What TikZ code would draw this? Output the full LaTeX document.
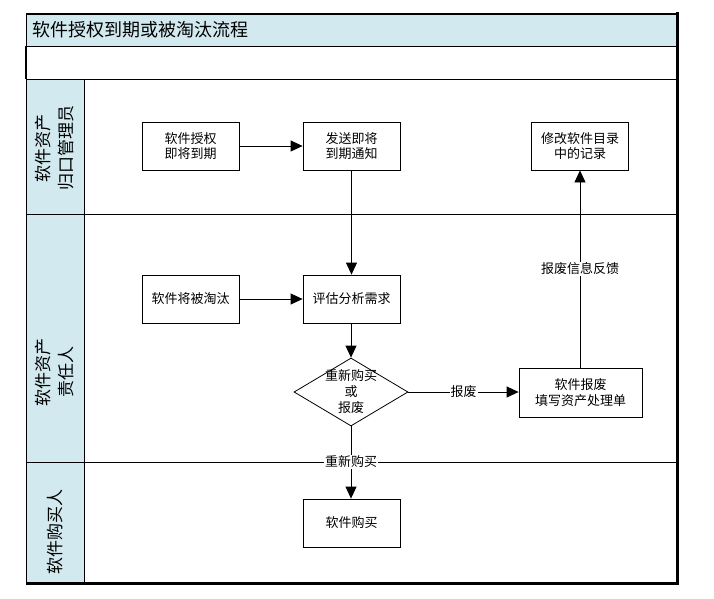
\documentclass[tikz,border=0pt]{standalone}
\usepackage{fontspec}
\setmainfont{Noto Sans CJK SC}
\usetikzlibrary{shapes.geometric,arrows.meta}
\definecolor{lanebg}{HTML}{D2E9EF}
\begin{document}
\begin{tikzpicture}[x=1pt,y=-1pt,
  box/.style={draw,line width=0.8pt,minimum width=97pt,minimum height=48pt,inner sep=0pt,align=center,font=\fontsize{13}{15.5}\selectfont},
  arr/.style={-{Triangle[length=12pt,width=11pt]},line width=0.8pt},
  lbl/.style={fill=white,inner sep=1pt,font=\fontsize{13}{15}\selectfont},
  lanetxt/.style={rotate=90,align=center,font=\fontsize{17}{23}\selectfont},
  frame/.style={line width=0.8pt}]
\useasboundingbox (0,0) rectangle (714,599);
% backgrounds
\fill[lanebg] (26,14) rectangle (677,46);
\fill[lanebg] (26,79) rectangle (84,583);
% frame and lanes
\draw[line width=1.2pt] (26,14) -- (677,14);
\draw[frame] (26,14) -- (26,583);
\draw[line width=2pt] (26,46) -- (26,79);
\draw[frame] (26,46) -- (677,46);
\draw[frame] (26,79) -- (677,79);
\draw[frame] (26,214) -- (677,214);
\draw[frame] (26,462) -- (677,462);
\draw[frame] (84,79) -- (84,583);
\draw[line width=3pt] (677,12.5) -- (677,583) -- (26,583);
% title and lane labels
\node[anchor=west,font=\fontsize{18}{20}\selectfont] (title) at (29,30) {软件授权到期或被淘汰流程};
\node[lanetxt] (l1) at (55,148) {软件资产\\归口管理员};
\node[lanetxt] (l2) at (55,372) {软件资产\\责任人};
\node[lanetxt] (l3) at (55,532) {软件购买人};
% nodes
\node[box] (a) at (190.5,146) {软件授权\\即将到期};
\node[box] (b) at (351.5,146) {发送即将\\到期通知};
\node[box] (c) at (580,146) {修改软件目录\\中的记录};
\node[box] (d) at (190.5,299) {软件将被淘汰};
\node[box] (e) at (351.5,299) {评估分析需求};
\node[draw,diamond,line width=0.8pt,minimum width=114pt,minimum height=68pt,inner sep=0pt,
  label={[align=center,font=\fontsize{13}{16}\selectfont]center:重新购买\\或\\报废}] (dec) at (351,392) {};
\node[box,minimum width=123pt,minimum height=49pt] (f) at (580.5,392.5) {软件报废\\填写资产处理单};
\node[box] (g) at (351.5,523) {软件购买};
% connectors
\draw[arr] (a) -- (b);
\draw[arr] (b) -- (e);
\draw[arr] (d) -- (e);
\draw[arr] (e.south -| dec.north) -- (dec.north);
\draw[arr] (dec.east) -- node[lbl] {报废} (f.west |- dec.east);
\draw[arr] (dec.south) -- node[lbl,pos=0.49] {重新购买} (g.north -| dec.south);
\draw[arr] (f.north -| c.south) -- node[lbl,pos=0.5] {报废信息反馈} (c.south);
\end{tikzpicture}
\end{document}
